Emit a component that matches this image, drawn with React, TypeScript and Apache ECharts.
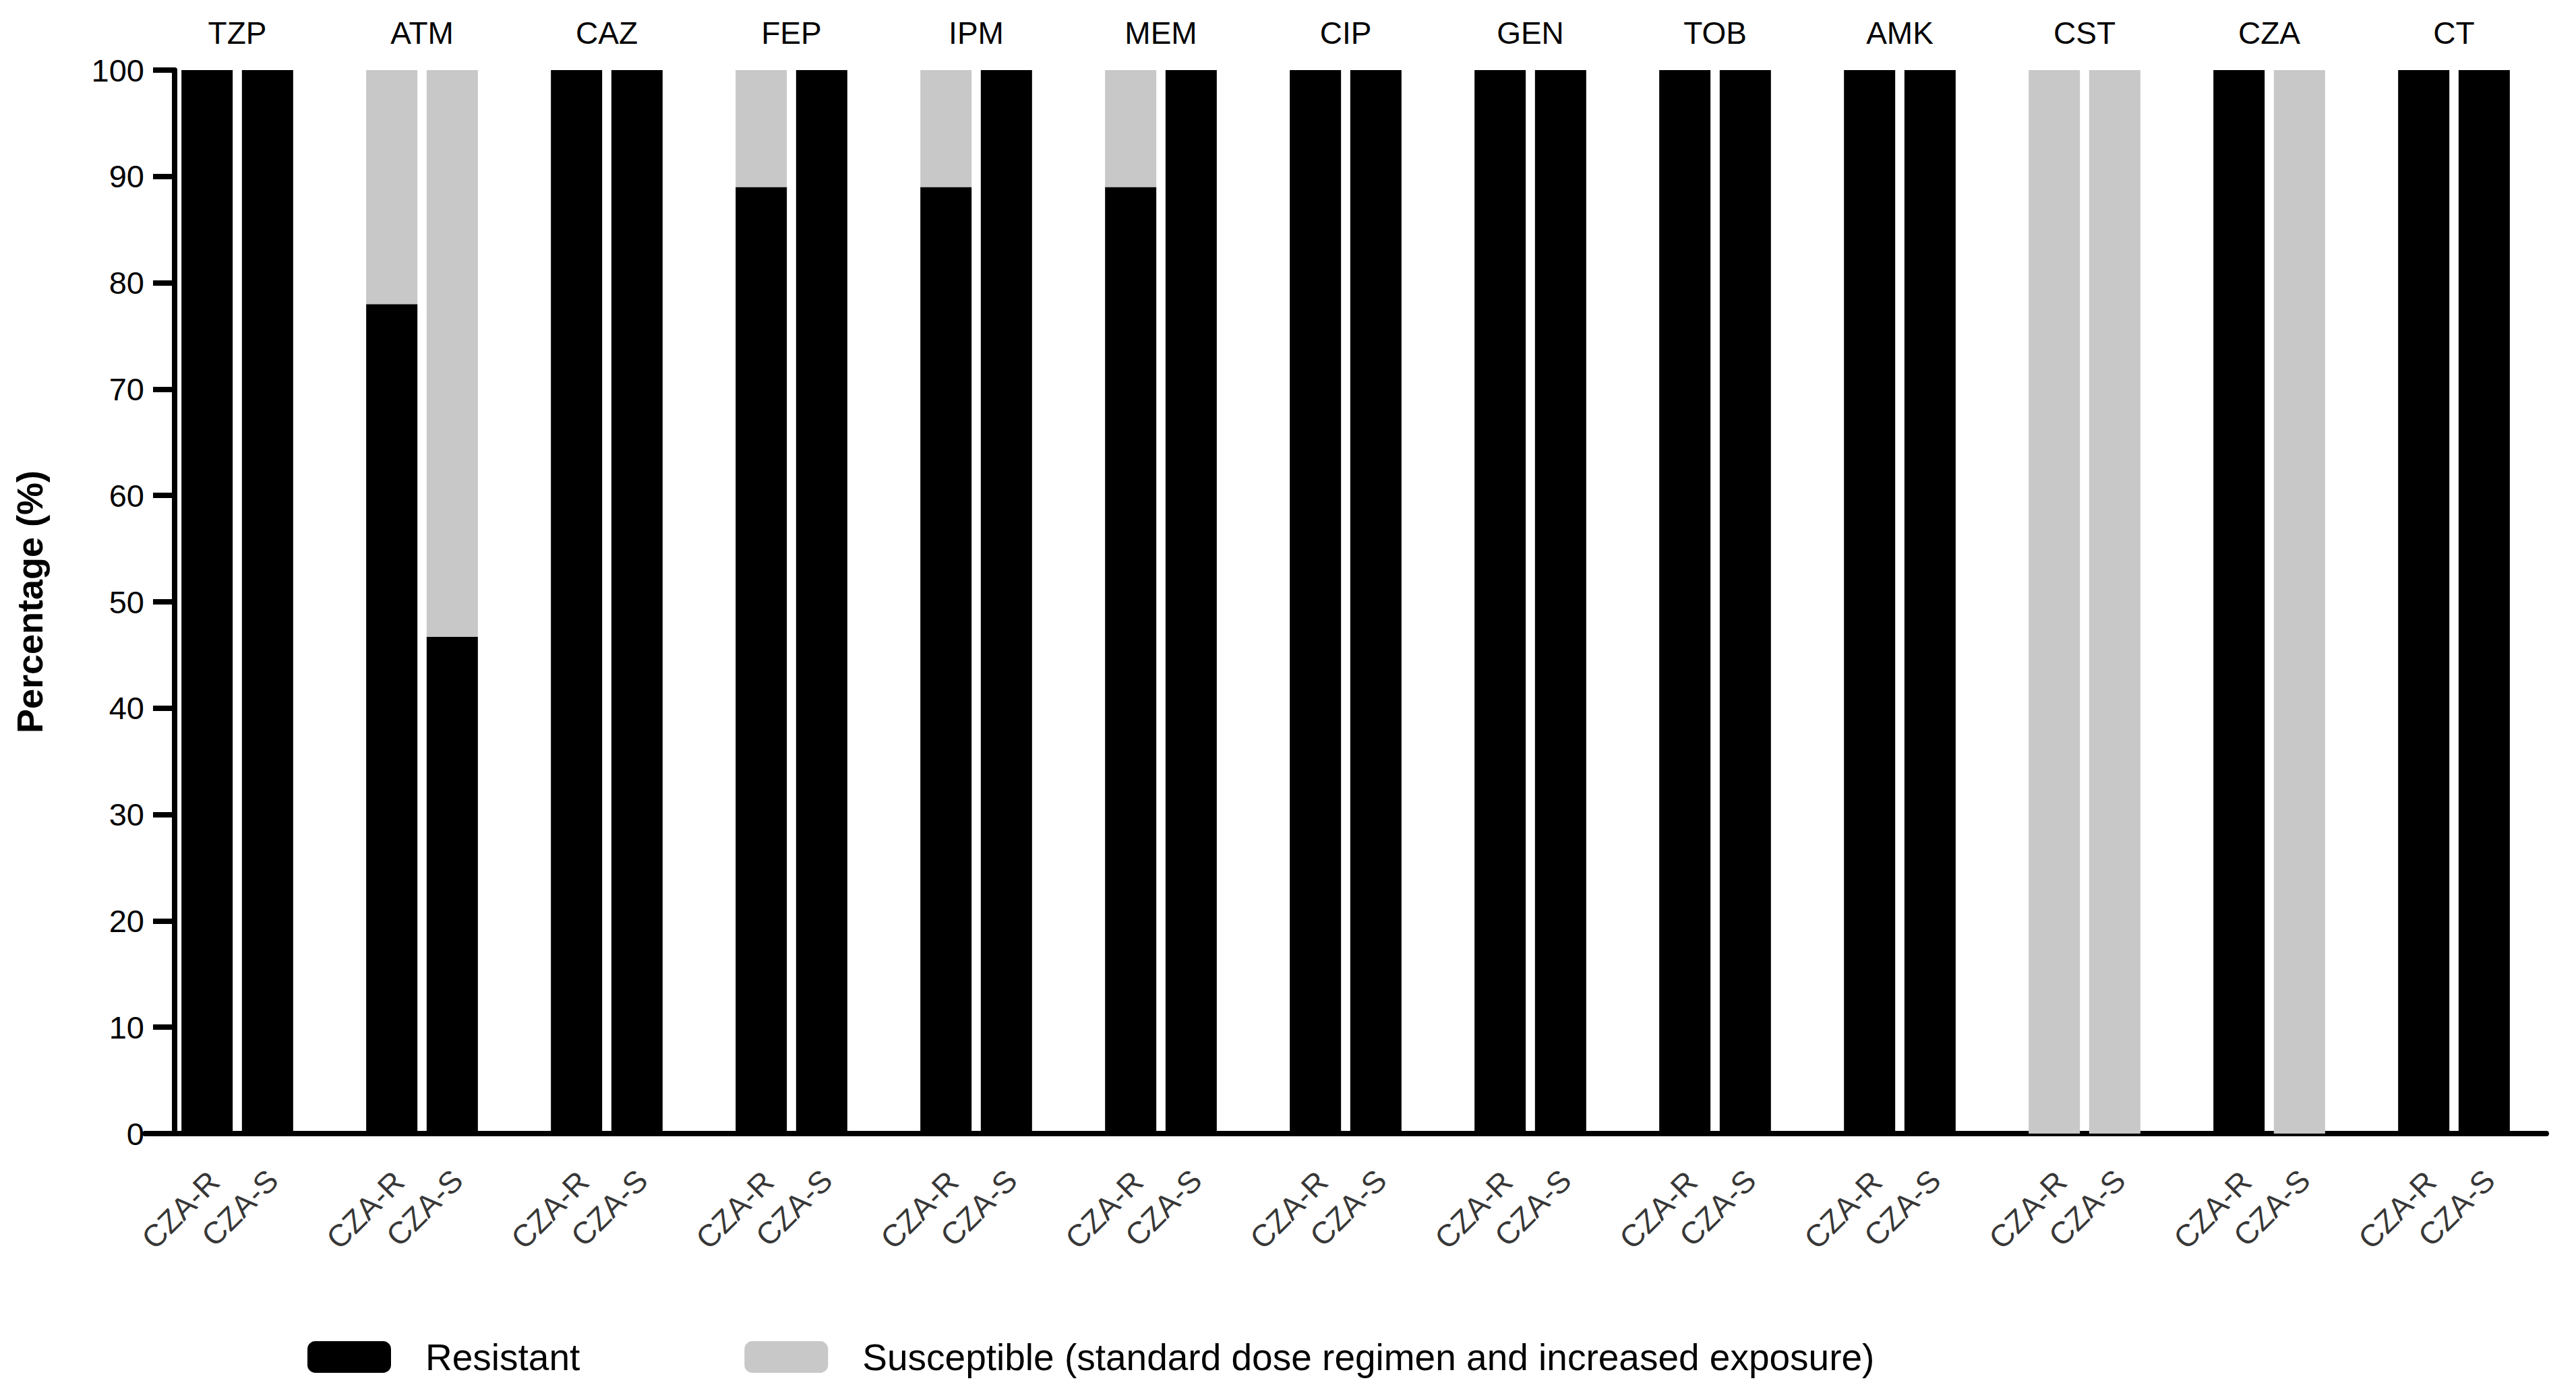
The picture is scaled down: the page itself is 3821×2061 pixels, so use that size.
import React, { useEffect, useRef } from "react";
import * as echarts from "echarts";

const categories = ["TZP", "ATM", "CAZ", "FEP", "IPM", "MEM", "CIP", "GEN", "TOB", "AMK", "CST", "CZA", "CT"];
const groupLabels = ["CZA-R", "CZA-S"];
const seriesNames = ["Resistant", "Susceptible (standard dose regimen and increased exposure)"];

// CZA-R group
const resistantR = [100, 78, 100, 89, 89, 89, 100, 100, 100, 100, 0, 100, 100];
const susceptibleR = [0, 22, 0, 11, 11, 11, 0, 0, 0, 0, 100, 0, 0];
// CZA-S group
const resistantS = [100, 46.7, 100, 100, 100, 100, 100, 100, 100, 100, 0, 0, 100];
const susceptibleS = [0, 53.3, 0, 0, 0, 0, 0, 0, 0, 0, 100, 100, 0];

const yTicks = { min: 0, max: 100, interval: 10 };

const FONT = "'Liberation Sans', Arial, sans-serif";
const BLACK = "#000000";
const GRAY = "#c8c8c8";

export default function App() {
  const ref = useRef<HTMLDivElement>(null);

  useEffect(() => {
    if (!ref.current) return;
    const chart = echarts.init(ref.current, undefined, { renderer: "svg" });

    const barCommon = {
      type: "bar" as const,
      barWidth: 76,
      barGap: "18%",
      silent: true,
    };

    const labelSeries = (label: string, pos: number[]) => ({
      type: "scatter" as const,
      name: label,
      silent: true,
      symbolSize: 1,
      itemStyle: { color: "rgba(0,0,0,0)" },
      data: categories.map(() => 0),
      label: {
        show: true,
        formatter: () => label,
        position: pos,
        rotate: 45,
        align: "right",
        verticalAlign: "middle",
        fontSize: 46,
        fontFamily: FONT,
        color: "#000",
      },
      z: 10,
    });

    chart.setOption({
      animation: false,
      backgroundColor: "#ffffff",
      textStyle: { fontFamily: FONT },
      grid: {
        left: 215,
        top: 104,
        width: 3562,
        height: 1578,
        containLabel: false,
        outerBoundsMode: "none",
      },
      legend: {
        data: seriesNames,
        left: 456,
        top: 1986,
        itemWidth: 124,
        itemHeight: 47,
        itemGap: 244,
        padding: 0,
        icon: "roundRect",
        selectedMode: false,
        textStyle: { fontSize: 55, color: "#000", fontFamily: FONT, padding: [0, 0, 0, 46] },
      },
      xAxis: [
        {
          type: "category",
          data: categories,
          position: "bottom",
          axisLine: { show: true, lineStyle: { color: BLACK, width: 8 } },
          axisTick: { show: false },
          axisLabel: { show: false },
        },
        {
          type: "category",
          data: categories,
          position: "top",
          axisLine: { show: false },
          axisTick: { show: false },
          axisLabel: { show: true, fontSize: 46, color: "#000", fontFamily: FONT, margin: 32 },
        },
      ],
      yAxis: {
        type: "value",
        min: yTicks.min,
        max: yTicks.max,
        interval: yTicks.interval,
        offset: -44,
        name: "Percentage (%)",
        nameLocation: "middle",
        nameGap: 188,
        nameTextStyle: { fontSize: 54, fontWeight: "bold", color: "#000", fontFamily: FONT },
        axisLine: { show: true, lineStyle: { color: BLACK, width: 8 } },
        axisTick: { show: true, length: 32, lineStyle: { color: BLACK, width: 8 } },
        axisLabel: { fontSize: 47, color: "#000", margin: 45, fontFamily: FONT },
        splitLine: { show: false },
      },
      series: [
        { ...barCommon, name: seriesNames[0], stack: "R", data: resistantR, itemStyle: { color: BLACK } },
        { ...barCommon, name: seriesNames[1], stack: "R", data: susceptibleR, itemStyle: { color: GRAY } },
        { ...barCommon, name: seriesNames[0], stack: "S", data: resistantS, itemStyle: { color: BLACK } },
        { ...barCommon, name: seriesNames[1], stack: "S", data: susceptibleS, itemStyle: { color: GRAY } },
        labelSeries(groupLabels[0], [-34, 64]),
        labelSeries(groupLabels[1], [53, 62]),
      ],
    });

    return () => chart.dispose();
  }, []);

  return (
    <div
      ref={ref}
      style={{ position: "fixed", left: 0, top: 0, width: 3821, height: 2061, background: "#fff" }}
    />
  );
}
